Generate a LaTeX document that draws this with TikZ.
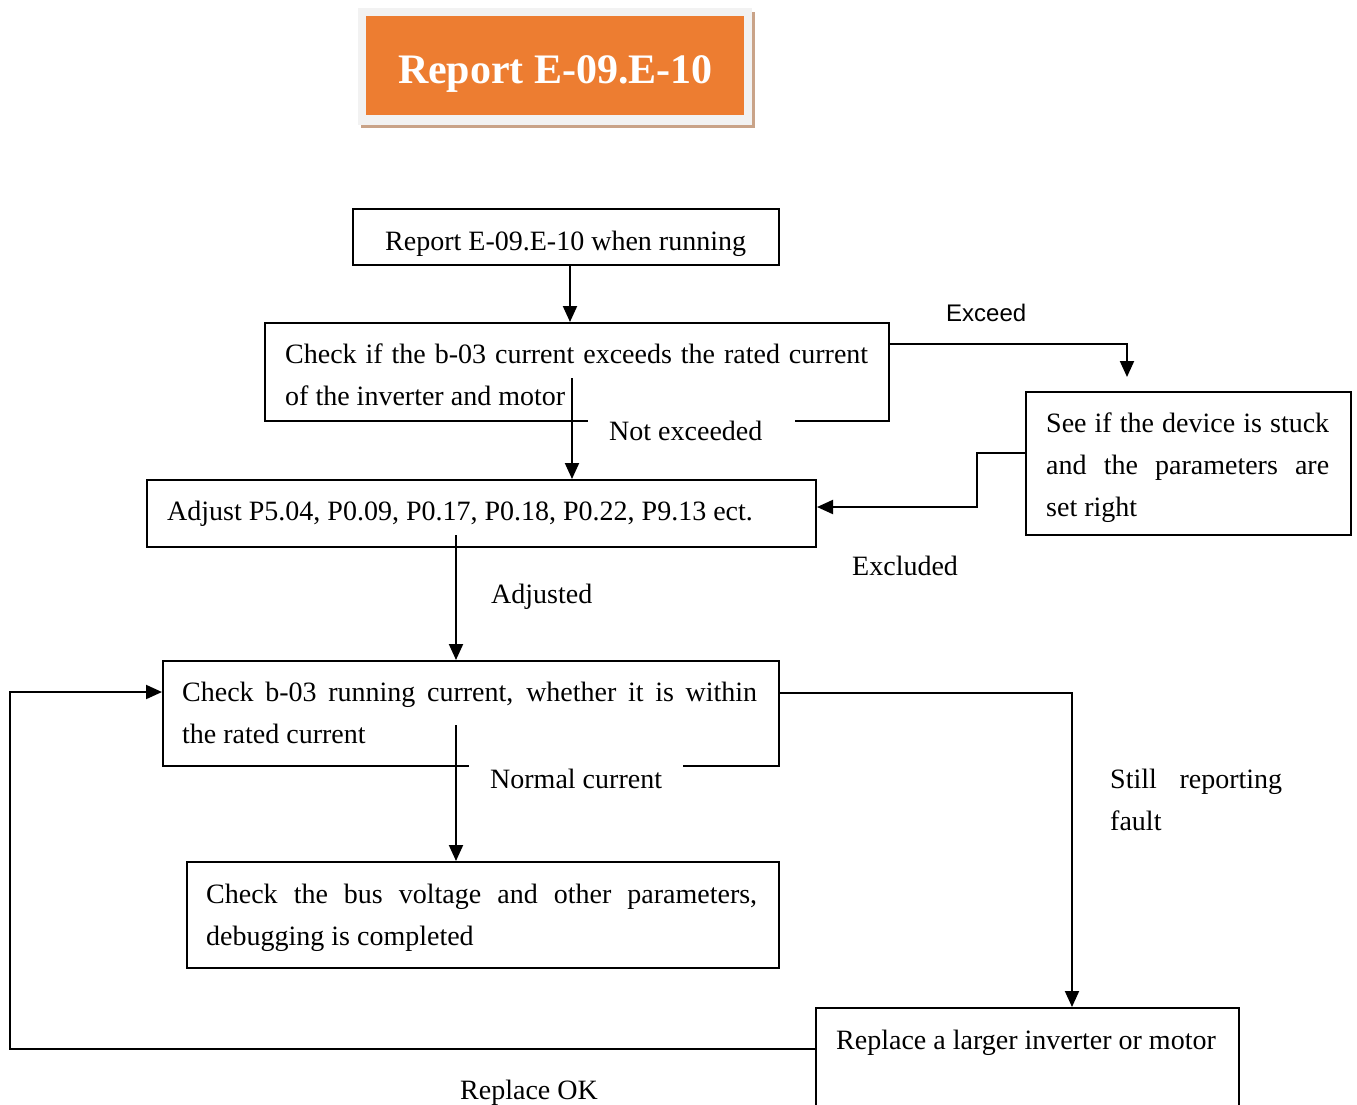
\documentclass[tikz,border=0pt]{standalone}
\usepackage{fontspec}
\setmainfont{Liberation Serif}
\newfontfamily\labelsans{Liberation Sans}
\usetikzlibrary{arrows.meta}
\definecolor{titleorange}{RGB}{237,125,49}
\definecolor{titleframe}{RGB}{242,242,242}
\definecolor{titleshadow}{RGB}{201,163,136}
% fixed first-line height so multi-line texts can be placed by their first baseline
\newcommand{\firstline}{\rule{0pt}{30pt}}
\begin{document}
\begin{tikzpicture}[x=1pt,y=-1pt,
  box/.style={draw, line width=2pt, inner sep=0pt, anchor=north west},
  txt/.style={anchor=base west, inner sep=0pt, font=\fontsize{28}{42}\selectfont},
  para/.style={anchor=north west, inner sep=0pt, align=left, font=\fontsize{28}{42}\selectfont},
  gap/.style={anchor=base west, fill=white, inner xsep=21pt, inner ysep=6pt, font=\fontsize{28}{42}\selectfont},
  flow/.style={line width=2pt, -{Triangle[length=16pt,width=14pt]}},
]
\useasboundingbox (0,0) rectangle (1357,1104);

% title plate
\fill[titleshadow] (361,12) rectangle (755,128);
\fill[titleframe] (358,8) rectangle (752,125);
\node[fill=titleorange, inner sep=0pt, anchor=north west, minimum width=378pt, minimum height=99pt] (title) at (366,16) {};
\node[anchor=base, inner sep=0pt, text=white, font=\fontsize{42}{50}\selectfont\bfseries] (titletext) at (555.5,83) {Report E-09.E-10};

% boxes
\node[box, minimum width=426pt, minimum height=56pt] (b1) at (352,208) {};
\node[box, minimum width=624pt, minimum height=98pt] (b2) at (264,322) {};
\node[box, minimum width=669pt, minimum height=67pt] (b3) at (146,479) {};
\node[box, minimum width=325pt, minimum height=143pt] (b4) at (1025,391) {};
\node[box, minimum width=616pt, minimum height=105pt] (b5) at (162,660) {};
\node[box, minimum width=592pt, minimum height=106pt] (b6) at (186,861) {};
\node[box, minimum width=423pt, minimum height=115pt] (b7) at (815,1007) {};

% box texts
\node[txt] (t1) at (385,250) {Report E-09.E-10 when running};
\node[para] (t2) at (285,333) {\firstline\makebox[583pt][s]{Check if the b-03 current exceeds the rated current}\\of the inverter and motor};
\node[txt] (t3) at (167,520) {Adjust P5.04, P0.09, P0.17, P0.18, P0.22, P9.13 ect.};
\node[para] (t4) at (1046,402) {\firstline\makebox[283pt][s]{See if the device is stuck}\\\makebox[283pt][s]{and the parameters are}\\set right};
\node[para] (t5) at (182,671) {\firstline\makebox[575pt][s]{Check b-03 running current, whether it is within}\\the rated current};
\node[para] (t6) at (206,873) {\firstline\makebox[551pt][s]{Check the bus voltage and other parameters,}\\debugging is completed};
\node[txt] (t7) at (836,1049) {Replace a larger inverter or motor};

% branch labels
\node[gap] (lnot) at (588,440) {Not exceeded\kern12pt};
\node[gap] (lnorm) at (469,788) {Normal current};
\node[anchor=base west, inner sep=0pt, font=\labelsans\fontsize{24}{30}\selectfont] (lexc) at (946,321) {Exceed};
\node[txt] (ladj) at (491,603) {Adjusted};
\node[txt] (lexcl) at (852,575) {Excluded};
\node[para] (lstill) at (1110,758) {\firstline\makebox[172pt][s]{Still reporting}\\fault};
\node[txt] (lok) at (460,1099) {Replace OK};

% connector waypoints
\coordinate (c1) at (570,0);
\coordinate (s2) at (572,378);
\coordinate (exTurn) at (1127,344);
\coordinate (exEnd) at (1127,377);
\coordinate (k1) at (977,453);
\coordinate (k2) at (977,507);
\coordinate (s3) at (456,535);
\coordinate (s5) at (456,725);
\coordinate (sr) at (1072,693);
\coordinate (fbB) at (10,1049);
\coordinate (fbT) at (10,692);

% connectors
\draw[flow] (b1.south -| c1) -- (b2.north -| c1);
\draw[flow] (s2) -- (b3.north -| s2);
\draw[flow] (b2.east |- exTurn) -- (exTurn) -- (exEnd);
\draw[flow] (b4.west |- k1) -- (k1) -- (k2) -- (b3.east |- k2);
\draw[flow] (s3) -- (b5.north -| s3);
\draw[flow] (s5) -- (b6.north -| s5);
\draw[flow] (b5.east |- sr) -- (sr) -- (b7.north -| sr);
\draw[flow] (b7.west |- fbB) -- (fbB) -- (fbT) -- (b5.west |- fbT);
\end{tikzpicture}
\end{document}
